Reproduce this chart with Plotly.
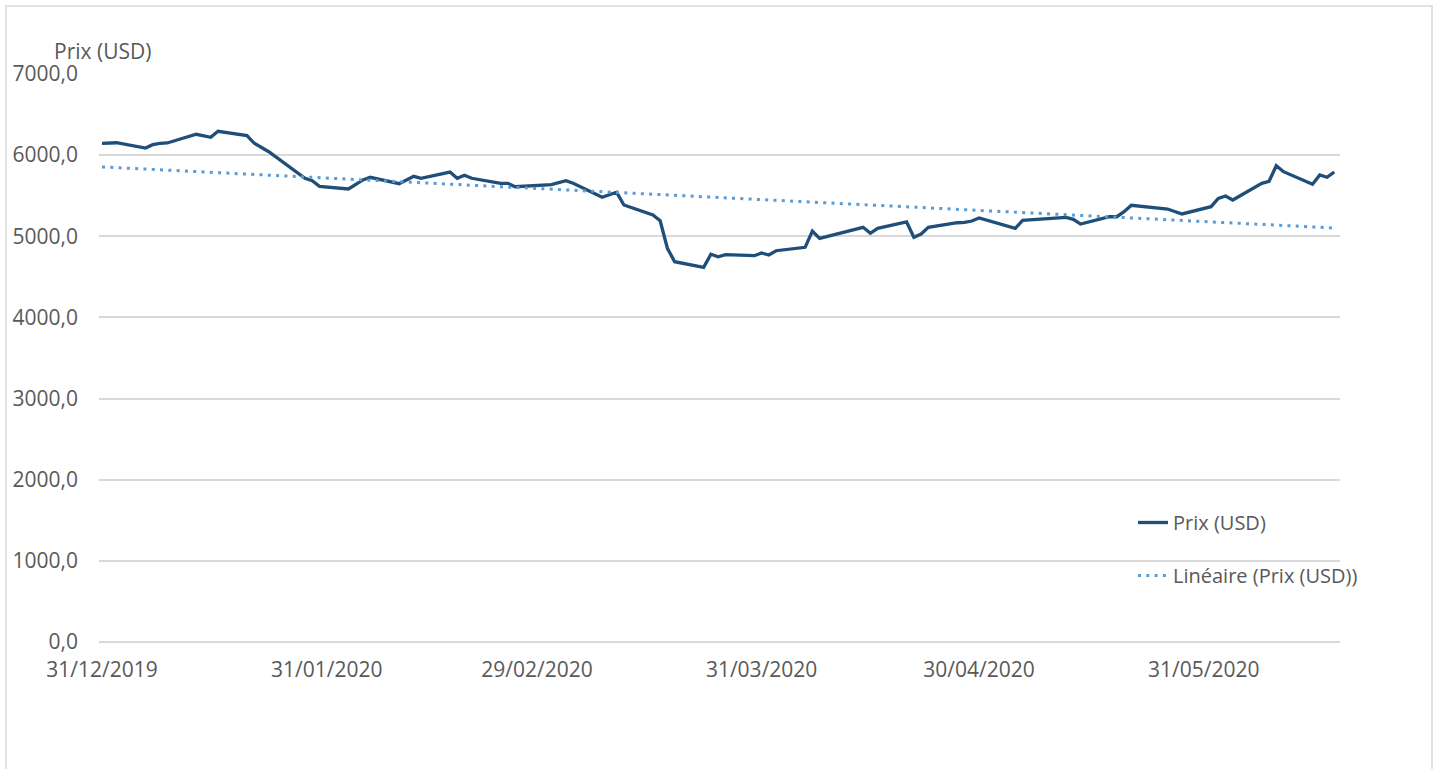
import plotly.graph_objects as go

# ---- data ----
dates = [
    "2019-12-31", "2020-01-02", "2020-01-06", "2020-01-07", "2020-01-08", "2020-01-09",
    "2020-01-13", "2020-01-15", "2020-01-16", "2020-01-20", "2020-01-21", "2020-01-23",
    "2020-01-28", "2020-01-29", "2020-01-30", "2020-02-03", "2020-02-05", "2020-02-06",
    "2020-02-10", "2020-02-12", "2020-02-13", "2020-02-17", "2020-02-18", "2020-02-19",
    "2020-02-20", "2020-02-24", "2020-02-25", "2020-02-26", "2020-03-02", "2020-03-04",
    "2020-03-05", "2020-03-09", "2020-03-11", "2020-03-12", "2020-03-16", "2020-03-17",
    "2020-03-18", "2020-03-19", "2020-03-23", "2020-03-24", "2020-03-25", "2020-03-26",
    "2020-03-30", "2020-03-31", "2020-04-01", "2020-04-02", "2020-04-06", "2020-04-07",
    "2020-04-08", "2020-04-14", "2020-04-15", "2020-04-16", "2020-04-20", "2020-04-21",
    "2020-04-22", "2020-04-23", "2020-04-27", "2020-04-28", "2020-04-29", "2020-04-30",
    "2020-05-05", "2020-05-06", "2020-05-12", "2020-05-13", "2020-05-14", "2020-05-18",
    "2020-05-19", "2020-05-20", "2020-05-21", "2020-05-26", "2020-05-28", "2020-06-01",
    "2020-06-02", "2020-06-03", "2020-06-04", "2020-06-08", "2020-06-09", "2020-06-10",
    "2020-06-11", "2020-06-15", "2020-06-16", "2020-06-17", "2020-06-18",
]
prices = [
    6146, 6153, 6088, 6129, 6146, 6150,
    6257, 6220, 6294, 6240, 6146, 6042,
    5715, 5685, 5616, 5583, 5694, 5727,
    5648, 5739, 5715, 5792, 5715, 5752,
    5715, 5653, 5653, 5611, 5636, 5685,
    5653, 5481, 5542, 5386, 5262, 5192,
    4852, 4687, 4618, 4778, 4748, 4773,
    4761, 4794, 4769, 4822, 4864, 5065,
    4975, 5111, 5037, 5098, 5176, 4988,
    5028, 5111, 5167, 5172, 5188, 5225,
    5098, 5197, 5234, 5209, 5151, 5241,
    5241, 5303, 5382, 5336, 5275, 5365,
    5468, 5496, 5447, 5653, 5678, 5870,
    5796, 5641, 5755, 5727, 5792,
]

trend_dates = ["2019-12-31", "2020-06-18"]
trend_values = [5855, 5102]

tick_dates = ["2019-12-31", "2020-01-31", "2020-02-29", "2020-03-31", "2020-04-30", "2020-05-31"]
tick_labels = ["31/12/2019", "31/01/2020", "29/02/2020", "31/03/2020", "30/04/2020", "31/05/2020"]
y_ticks = [0, 1000, 2000, 3000, 4000, 5000, 6000, 7000]

series_name = "Prix (USD)"
trend_name = "Linéaire (Prix (USD))"
axis_title = "Prix (USD)"

# ---- styles ----
FONT = "Open Sans"
TXT = "#595959"
GRID = "#D9D9D9"

fig = go.Figure()
fig.add_trace(go.Scatter(
    x=dates, y=prices, mode="lines", name=series_name,
    line=dict(color="#1F4E79", width=3.3), legendgroup="a",
))
fig.add_trace(go.Scatter(
    x=trend_dates, y=trend_values, mode="lines", name=trend_name,
    line=dict(color="#5B9BD5", width=3, dash="3px,5.3px"), legendgroup="b",
))

fig.update_layout(
    width=1441, height=769,
    margin=dict(l=99, r=101, t=74, b=127, autoexpand=False),
    paper_bgcolor="white", plot_bgcolor="white",
    font=dict(family=FONT, size=21, color=TXT),
    separators=",.",
    showlegend=True,
    legend=dict(
        x=(1133 - 99) / 1241, xanchor="left",
        y=(642 - 503) / 568, yanchor="top",
        bgcolor="rgba(0,0,0,0)", tracegroupgap=24,
        font=dict(family=FONT, size=20, color=TXT),
    ),
    xaxis=dict(
        type="date",
        range=["2019-12-30 14:00", "2020-06-18 19:00"],
        tickvals=tick_dates, ticktext=tick_labels,
        showgrid=False, showline=False, zeroline=False, ticks="",
        tickfont=dict(family=FONT, size=21, color=TXT),
        ticklabelstandoff=13,
    ),
    yaxis=dict(
        range=[0, 7000], tickvals=y_ticks, tickformat=".1f",
        showgrid=True, gridcolor=GRID, gridwidth=1.5,
        zeroline=True, zerolinecolor=GRID, zerolinewidth=1.5,
        showline=False, ticks="",
        tickfont=dict(family=FONT, size=21, color=TXT),
        ticklabelstandoff=20,
    ),
    annotations=[dict(
        text=axis_title, xref="paper", yref="paper",
        x=(52 - 99) / 1241, y=(642 - 51) / 568,
        xanchor="left", yanchor="middle", showarrow=False,
        font=dict(family=FONT, size=21, color=TXT),
    )],
    shapes=[dict(
        type="rect", xref="paper", yref="paper",
        x0=(6 - 99) / 1241, x1=(1432 - 99) / 1241,
        y0=(642 - 800) / 568, y1=(642 - 6) / 568,
        line=dict(color=GRID, width=1.5), fillcolor="rgba(0,0,0,0)", layer="below",
    )],
)

fig.write_html(
    "out.html",
    config={"displayModeBar": False},
    post_script="document.body.style.margin='0';",
)
